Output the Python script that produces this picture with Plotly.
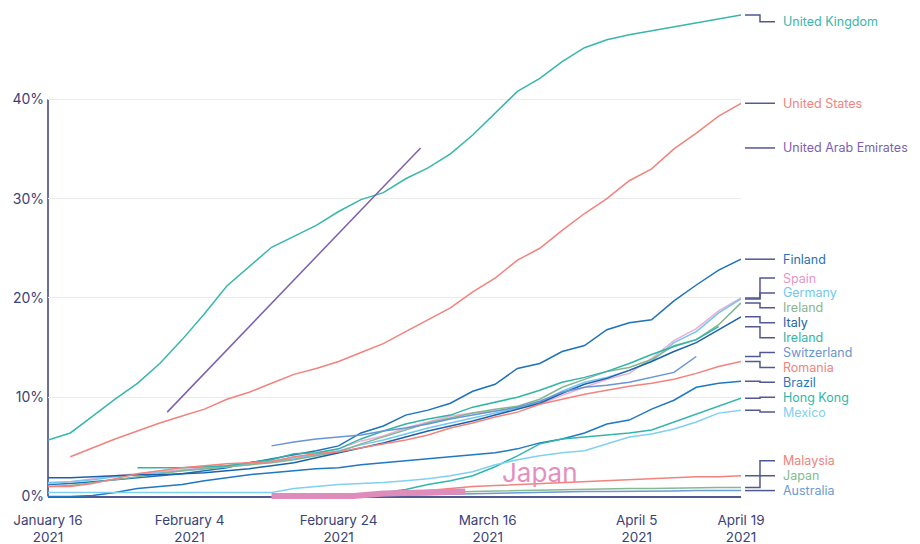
import plotly.graph_objects as go

N = None

dates = ["2021-01-16", "2021-01-19", "2021-01-22", "2021-01-25", "2021-01-28", "2021-01-31",
         "2021-02-03", "2021-02-06", "2021-02-09", "2021-02-12", "2021-02-15", "2021-02-18",
         "2021-02-21", "2021-02-24", "2021-02-27", "2021-03-02", "2021-03-05", "2021-03-08",
         "2021-03-11", "2021-03-14", "2021-03-17", "2021-03-20", "2021-03-23", "2021-03-26",
         "2021-03-29", "2021-04-01", "2021-04-04", "2021-04-07", "2021-04-10", "2021-04-13",
         "2021-04-16", "2021-04-19"]

united_kingdom = [5.7, 6.4, 8.1, 9.8, 11.4, 13.4, 15.8, 18.4, 21.2, 23.2, 25.1, 26.2, 27.3, 28.7, 29.9, 30.6,
                  32.0, 33.1, 34.5, 36.4, 38.6, 40.8, 42.1, 43.8, 45.2, 46.0, 46.5, 46.9, 47.3, 47.7, 48.1, 48.5]
united_states = [N, 4.0, 4.9, 5.8, 6.6, 7.4, 8.1, 8.8, 9.8, 10.5, 11.4, 12.3, 12.9, 13.6, 14.5, 15.4,
                 16.6, 17.8, 19.0, 20.6, 22.0, 23.8, 25.0, 26.8, 28.5, 30.0, 31.8, 33.0, 35.0, 36.6, 38.3, 39.6]
uae_dates = ["2021-02-01", "2021-03-07"]
uae = [8.5, 35.1]
finland = [1.2, 1.3, 1.5, 1.7, 1.9, 2.1, 2.3, 2.6, 2.9, 3.4, 3.8, 4.2, 4.6, 5.1, 6.4, 7.1,
           8.2, 8.7, 9.4, 10.6, 11.3, 12.9, 13.4, 14.6, 15.2, 16.8, 17.5, 17.8, 19.7, 21.3, 22.8, 23.9]
spain = [1.3, 1.5, 1.8, 2.1, 2.3, 2.5, 2.7, 2.9, 3.1, 3.3, 3.6, 3.9, 4.3, 4.8, 5.6, 6.1,
         6.9, 7.5, 8.1, 8.4, 8.6, 8.9, 9.3, 10.2, 11.0, 11.8, 12.4, 13.9, 15.7, 16.9, 18.7, 20.0]
germany = [1.4, 1.5, 1.7, 2.0, 2.2, 2.4, 2.6, 2.8, 3.0, 3.2, 3.5, 3.8, 4.2, 4.6, 5.2, 5.7,
           6.3, 6.9, 7.4, 7.9, 8.4, 8.9, 9.5, 10.6, 11.5, 12.0, 12.7, 13.6, 15.5, 16.6, 18.5, 19.9]
ireland_a = [1.0, 1.1, 1.4, 1.7, 2.0, 2.3, 2.6, 2.8, 3.0, 3.2, 3.4, 3.7, 4.1, 4.5, 5.3, 6.0,
             6.7, 7.4, 7.9, 8.4, 8.8, 9.1, 9.8, 11.0, 11.8, 12.6, 13.0, 13.8, 15.2, 15.8, 17.3, 19.5]
italy = [1.9, 1.9, 2.0, 2.1, 2.2, 2.2, 2.3, 2.4, 2.6, 2.8, 3.1, 3.4, 3.9, 4.4, 4.9, 5.4,
         6.0, 6.6, 7.1, 7.6, 8.2, 8.8, 9.4, 10.4, 11.3, 11.9, 12.7, 13.6, 14.6, 15.5, 16.8, 18.1]
ireland_b = [N, N, N, N, 2.9, 2.9, 2.9, 3.0, 3.1, 3.4, 3.7, 4.3, 4.4, 4.8, 5.8, 6.6,
             7.3, 7.8, 8.2, 9.0, 9.5, 10.0, 10.7, 11.5, 12.0, 12.6, 13.4, 14.3, 15.1, 15.8, 17.1, N]
switzerland = [N, N, N, N, N, N, N, N, N, N, 5.1, 5.5, 5.8, 6.0, 6.2, 6.6,
               6.9, 7.3, 7.8, 8.2, 8.6, 9.0, 9.6, 10.5, 11.0, 11.2, 11.5, 12.0, 12.5, 14.1, N, N]
romania = [1.0, 1.0, 1.3, 1.8, 2.3, 2.6, 2.9, 3.1, 3.3, 3.4, 3.5, 4.0, 4.3, 4.5, 4.9, 5.3,
           5.7, 6.2, 6.9, 7.4, 8.0, 8.5, 9.3, 9.8, 10.3, 10.7, 11.1, 11.4, 11.8, 12.4, 13.1, 13.6]
brazil = [0.0, 0.0, 0.1, 0.4, 0.8, 1.0, 1.2, 1.6, 1.9, 2.2, 2.4, 2.6, 2.8, 2.9, 3.2, 3.4,
          3.6, 3.8, 4.0, 4.2, 4.4, 4.8, 5.4, 5.8, 6.4, 7.3, 7.7, 8.8, 9.7, 11.0, 11.4, 11.6]
hong_kong = [N, N, N, N, N, N, N, N, N, N, N, N, N, N, 0.1, 0.4,
             0.7, 1.2, 1.6, 2.1, 3.0, 4.1, 5.3, 5.8, 6.0, 6.2, 6.4, 6.7, 7.5, 8.3, 9.1, 9.9]
mexico = [0.4, 0.4, 0.4, 0.4, 0.4, 0.4, 0.4, 0.4, 0.4, 0.4, 0.4, 0.8, 1.0, 1.2, 1.3, 1.4,
          1.6, 1.8, 2.1, 2.5, 3.2, 3.7, 4.1, 4.4, 4.6, 5.3, 6.0, 6.3, 6.8, 7.5, 8.4, 8.7]
malaysia = [N, N, N, N, N, N, N, N, N, N, N, N, N, 0.0, 0.1, 0.2,
            0.4, 0.6, 0.8, 1.0, 1.1, 1.2, 1.3, 1.4, 1.5, 1.6, 1.7, 1.8, 1.9, 2.0, 2.0, 2.1]
japan = [N, N, N, N, N, N, N, N, N, N, 0.0, 0.0, 0.05, 0.1, 0.1, 0.15,
         0.25, 0.35, 0.45, 0.5, 0.55, 0.6, 0.65, 0.7, 0.7, 0.75, 0.8, 0.8, 0.85, 0.85, 0.9, 0.9]
australia = [N, N, N, N, N, N, N, N, N, N, N, N, N, 0.0, 0.05, 0.1,
             0.1, 0.15, 0.2, 0.25, 0.3, 0.35, 0.4, 0.45, 0.5, 0.5, 0.5, 0.55, 0.55, 0.6, 0.6, 0.6]
japan_hl_dates = ["2021-02-15", "2021-02-26", "2021-03-02", "2021-03-13"]
japan_hl = [0.05, 0.05, 0.3, 0.5]

series = [
    ("United Kingdom", dates, united_kingdom, "#38b6ad"),
    ("United States", dates, united_states, "#f2837c"),
    ("United Arab Emirates", uae_dates, uae, "#7d5fb0"),
    ("Finland", dates, finland, "#1f72b8"),
    ("Spain", dates, spain, "#ecaed3"),
    ("Germany", dates, germany, "#70c7f0"),
    ("Ireland", dates, ireland_a, "#84b690"),
    ("Italy", dates, italy, "#1c62a8"),
    ("Ireland", dates, ireland_b, "#32b4a7"),
    ("Switzerland", dates, switzerland, "#6895d4"),
    ("Romania", dates, romania, "#f2837c"),
    ("Brazil", dates, brazil, "#1f78c1"),
    ("Hong Kong", dates, hong_kong, "#33b6a9"),
    ("Mexico", dates, mexico, "#80d0f2"),
    ("Malaysia", dates, malaysia, "#f2837c"),
    ("Japan", dates, japan, "#86b98f"),
    ("Australia", dates, australia, "#6b9ad6"),
]
label_colors = {"Spain": "#e596c4"}

x_tick_vals = ["2021-01-16", "2021-02-04", "2021-02-24", "2021-03-16", "2021-04-05", "2021-04-19"]
x_tick_text = ["January 16<br>2021", "February 4<br>2021", "February 24<br>2021",
               "March 16<br>2021", "April 5<br>2021", "April 19<br>2021"]
y_tick_vals = [0, 10, 20, 30, 40]
y_tick_text = ["0%", "10%", "20%", "30%", "40%"]

NAVY = "#525890"
TXT = "#3b4278"
FONT = "Inter"

fig = go.Figure()
for name, xs, ys, col in series:
    fig.add_trace(go.Scatter(x=xs, y=ys, mode="lines", name=name,
                             line=dict(color=col, width=1.5), connectgaps=False,
                             hoverinfo="skip"))
fig.add_trace(go.Scatter(x=japan_hl_dates, y=japan_hl, mode="lines", name="Japan highlight",
                         line=dict(color="#df8cbb", width=6), hoverinfo="skip"))

# --- end labels with simple collision avoidance ---
ends = []
for name, xs, ys, col in series:
    last = [v for v in ys if v is not None][-1]
    ends.append([name, last, label_colors.get(name, col)])
ends.sort(key=lambda e: -e[1])
GAP, LO, HI = 1.5, 0.6, 47.8
groups = [[i] for i in range(len(ends))]
def place(groups):
    pos = {}
    for g in groups:
        m = sum(ends[i][1] for i in g) / len(g)
        for k, i in enumerate(g):
            pos[i] = m + ((len(g) - 1) / 2 - k) * GAP
        top = pos[g[0]]
        bot = pos[g[-1]]
        if top > HI:
            for i in g: pos[i] -= top - HI
        if bot < LO:
            for i in g: pos[i] += LO - bot
    return pos
while True:
    pos = place(groups)
    merged = False
    for a in range(len(groups) - 1):
        if pos[groups[a][-1]] - pos[groups[a + 1][0]] < GAP - 1e-9:
            groups[a] = groups[a] + groups[a + 1]
            del groups[a + 1]
            merged = True
            break
    if not merged:
        break

X0, XE, X1, XT = 1.0058, 1.0274, 1.0491, 1.0578
shapes = []
annotations = []
for i, (name, end, col) in enumerate(ends):
    ly = pos[i]
    shapes.append(dict(type="path", xref="paper", yref="y",
                       path=f"M {X0},{end} H {XE} V {ly} H {X1}",
                       line=dict(color=NAVY, width=1.5)))
    annotations.append(dict(xref="paper", yref="y", x=XT, y=ly, text=name, showarrow=False,
                            xanchor="left", yanchor="middle",
                            font=dict(family=FONT, size=12.5, color=col)))

# y axis line (0-40%)
shapes.append(dict(type="line", xref="paper", yref="y", x0=0, x1=0, y0=0, y1=40,
                   line=dict(color="#6a6ea0", width=2), layer="below"))

annotations.append(dict(xref="x", yref="y", x="2021-03-23", y=2.4, text="Japan", showarrow=False,
                        xanchor="center", yanchor="middle",
                        font=dict(family=FONT, size=26, color="#e48fc0")))

fig.update_layout(
    width=920, height=544,
    margin=dict(l=48, r=179, t=0, b=44),
    paper_bgcolor="white", plot_bgcolor="white",
    showlegend=False, hovermode=False,
    font=dict(family=FONT, color=TXT),
    shapes=shapes, annotations=annotations,
    xaxis=dict(type="date", range=["2021-01-16", "2021-04-19"], anchor="free", position=0.007,
               tickmode="array", tickvals=x_tick_vals, ticktext=x_tick_text,
               ticks="outside", ticklen=9, tickcolor="rgba(0,0,0,0)", ticklabelstandoff=2,
               showline=True, linecolor=NAVY, linewidth=2, showgrid=False, zeroline=False,
               tickfont=dict(family=FONT, size=13.5, color=TXT), layer="below traces"),
    xaxis2=dict(type="date", range=["2021-01-16", "2021-04-19"], overlaying="x", anchor="free",
                position=0.007, side="bottom", tickmode="array", tickvals=x_tick_vals[1:],
                ticks="outside", ticklen=9, tickwidth=1.5, tickcolor=NAVY,
                showticklabels=False, showline=False, showgrid=False, zeroline=False,
                layer="below traces"),
    yaxis=dict(range=[-0.35, 50], tickmode="array", tickvals=y_tick_vals, ticktext=y_tick_text,
               showgrid=True, gridcolor="#ebebeb", gridwidth=1, zeroline=False, showline=False,
               ticks="", ticklabelstandoff=3,
               tickfont=dict(family=FONT, size=14, color=TXT)),
)

fig.write_html("out.html", config={"displayModeBar": False, "staticPlot": True},
               post_script="document.body.style.margin='0';")
